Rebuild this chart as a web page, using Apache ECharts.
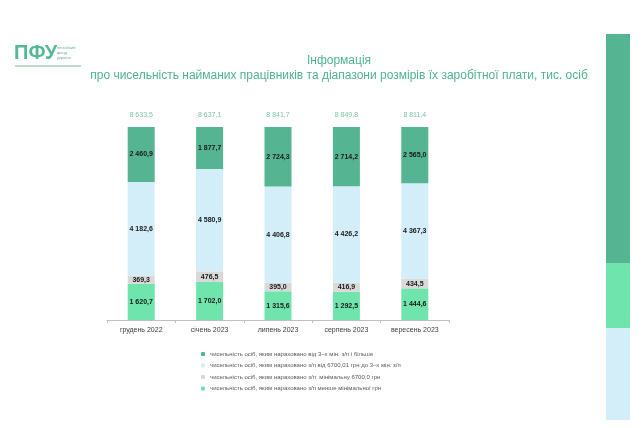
<!DOCTYPE html>
<html><head><meta charset="utf-8">
<script src="https://cdn.jsdelivr.net/npm/echarts@6/dist/echarts.min.js"></script>
<style>html,body{margin:0;padding:0;background:#fff}#c{width:644px;height:428px}</style>
</head><body><div id="c"></div>
<script>
const categories = ['грудень 2022', 'січень 2023', 'липень 2023', 'серпень 2023', 'вересень 2023'];
const belowMin = [1620.7, 1702.0, 1315.6, 1292.5, 1444.6];
const atMin = [369.3, 476.5, 395.0, 416.9, 434.5];
const middle = [4182.6, 4580.9, 4406.8, 4426.2, 4367.3];
const top3 = [2460.9, 1877.7, 2724.3, 2714.2, 2565.0];
const totals = [8633.5, 8637.1, 8841.7, 8849.8, 8811.4];
const names = [
  'чисельність осіб, яким нараховано від 3–х мін. з/п і більше',
  'чисельність осіб, яким нараховано з/п від 6700,01 грн до 3–х мін. з/п',
  'чисельність осіб, яким нараховано з/п  мінімальну 6700,0 грн',
  'чисельність осіб, яким нараховано з/п менше мінімальної грн'
];
function fmt(v){
  const s = v.toFixed(1).split('.');
  return s[0].replace(/\B(?=(\d{3})+(?!\d))/g, ' ') + ',' + s[1];
}
function pct(arr){
  return arr.map((v,i)=>{
    const t = belowMin[i]+atMin[i]+middle[i]+top3[i];
    return {value: v/t*100, raw: v};
  });
}
const lbl = {show:true, position:'inside', fontSize:7, fontWeight:'bold', color:'#1a1a1a',
  fontFamily:'Liberation Sans', formatter:p=>fmt(p.data.raw)};
const chart = echarts.init(document.getElementById('c'), null, {renderer:'canvas'});
chart.setOption({
  animation:false,
  textStyle:{fontFamily:'Liberation Sans'},
  title:[
    {text:'Інформація', left:334, textAlign:'center', top:50,
      textStyle:{fontSize:12, fontWeight:'normal', color:'#4fb48e', fontFamily:'Liberation Sans'}},
    {text:'про чисельність найманих працівників та діапазони розмірів їх заробітної плати, тис. осіб', left:334, textAlign:'center', top:65,
      textStyle:{fontSize:12, fontWeight:'normal', color:'#4fb48e', fontFamily:'Liberation Sans'}}
  ],
  graphic:[
    {type:'text', left:14, top:43, style:{text:'ПФУ', font:'bold 20px Liberation Sans', fill:'#52b993'}},
    {type:'text', left:57, top:45, style:{text:'пенсійний\nфонд\nукраїни', font:'4px Liberation Sans', fill:'#7a9', lineHeight:5}},
    {type:'rect', shape:{x:15, y:65, width:66, height:2}, style:{fill:'#b9dccb'}},
    {type:'rect', shape:{x:606, y:34, width:24, height:229}, style:{fill:'#55b592'}},
    {type:'rect', shape:{x:606, y:263, width:24, height:65}, style:{fill:'#6fe4ad'}},
    {type:'rect', shape:{x:606, y:328, width:24, height:92}, style:{fill:'#d3edf9'}}
  ],
  legend:{
    orient:'vertical', left:196, top:346, itemWidth:4, itemHeight:4, itemGap:5.5,
    data:names,
    textStyle:{fontSize:6, color:'#595959', fontFamily:'Liberation Sans'}
  },
  grid:{left:107, right:195, top:127, bottom:108},
  xAxis:{type:'category', data:categories,
    axisLine:{lineStyle:{color:'#bfbfbf'}},
    axisTick:{show:true, length:3, lineStyle:{color:'#bfbfbf'}},
    axisLabel:{fontSize:7, color:'#404040', margin:7}},
  yAxis:{type:'value', min:0, max:100.001, show:false},
  series:[
    {name:names[3], type:'bar', stack:'s', barWidth:27, data:pct(belowMin), itemStyle:{color:'#6fe4ad'}, label:lbl},
    {name:names[2], type:'bar', stack:'s', data:pct(atMin), itemStyle:{color:'#d9d9d9'}, label:lbl},
    {name:names[1], type:'bar', stack:'s', data:pct(middle), itemStyle:{color:'#d3edf9'}, label:lbl},
    {name:names[0], type:'bar', stack:'s', data:pct(top3), itemStyle:{color:'#55b592'}, label:lbl},
    {name:'total', type:'bar', stack:'s', data:totals.map(t=>({value:0, raw:t})),
      itemStyle:{color:'transparent'}, labelLayout:{hideOverlap:false},
      label:{show:true, position:'top', distance:8, fontSize:7, color:'#7bc4a6', formatter:p=>fmt(p.data.raw)}}
  ]
});
</script></body></html>
